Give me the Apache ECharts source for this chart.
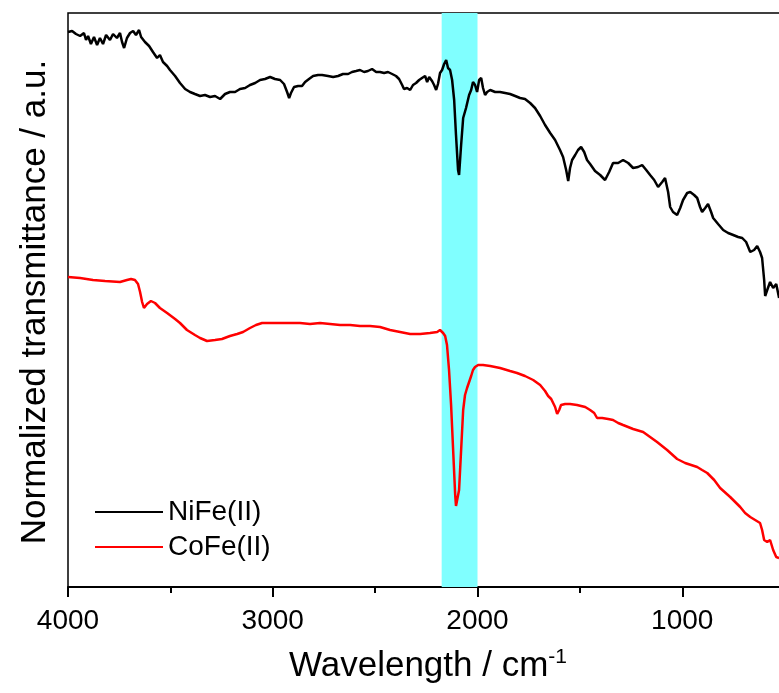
<!DOCTYPE html>
<html>
<head>
<meta charset="utf-8">
<script src="https://cdn.jsdelivr.net/npm/echarts@6/dist/echarts.min.js"></script>
<style>html,body{margin:0;padding:0;background:#fff;}#chart{width:779px;height:693px;}</style>
</head>
<body>
<div id="chart"></div>
<script>
// Wavenumbers (cm^-1) and normalized transmittance (a.u.)
var wnNiFe = [4000,3980,3961,3941,3922,3912,3902,3888,3873,3858,3844,3829,3814,3795,3780,3761,3746,3736,3726,3712,3697,3682,3668,3653,3643,3624,3604,3585,3565,3551,3536,3516,3502,3477,3453,3428,3404,3380,3355,3331,3306,3282,3257,3233,3209,3184,3160,3135,3111,3086,3062,3038,3013,2989,2964,2945,2930,2920,2911,2896,2876,2857,2842,2823,2803,2779,2759,2730,2705,2681,2657,2632,2613,2593,2574,2554,2535,2515,2495,2476,2456,2437,2417,2398,2383,2368,2359,2344,2329,2315,2300,2285,2271,2256,2246,2236,2222,2212,2202,2193,2183,2173,2163,2153,2144,2134,2124,2114,2105,2095,2090,2080,2070,2056,2041,2031,2022,2012,2002,1992,1982,1973,1963,1953,1938,1914,1890,1865,1841,1816,1792,1768,1743,1719,1694,1670,1645,1621,1597,1582,1567,1557,1548,1538,1523,1509,1494,1479,1465,1450,1426,1401,1377,1357,1338,1313,1289,1264,1240,1216,1196,1176,1157,1137,1118,1098,1084,1069,1059,1045,1025,1010,996,976,961,942,927,913,903,888,874,859,849,825,800,776,751,727,707,688,668,649,634,620,610,600,595,585,571,556,541,527];
var tNiFe = [111.0,111.2,110.6,110.2,110.8,109.4,110.2,108.6,110.0,108.4,109.8,108.6,110.4,109.4,110.6,109.8,110.8,109.0,107.8,109.8,110.8,111.2,110.4,111.4,110.0,109.0,108.2,107.0,105.8,106.4,105.0,104.2,103.4,102.2,100.8,99.6,99.0,98.6,98.2,98.4,98.0,98.2,97.6,98.6,99.0,99.0,99.6,99.8,100.4,100.8,101.4,101.6,102.0,101.6,101.4,100.6,99.0,97.8,98.8,100.0,100.2,100.2,101.0,101.6,102.2,102.4,102.4,102.2,102.0,102.2,102.6,102.6,103.0,103.2,103.4,103.0,103.2,103.6,103.0,103.0,102.8,103.0,102.6,102.2,101.6,100.4,99.6,99.8,99.4,100.4,100.8,101.4,101.8,102.2,101.0,102.0,101.2,100.4,99.4,100.6,102.8,103.4,104.6,105.4,103.8,103.4,101.4,97.4,90.4,83.4,82.4,88.4,93.8,95.8,98.4,99.4,101.0,100.4,99.0,101.4,101.8,99.8,98.4,99.0,99.4,99.0,99.0,98.8,98.6,98.2,97.8,97.6,96.8,95.8,94.2,92.4,90.8,89.4,87.4,86.0,83.4,81.2,83.8,85.4,86.4,87.4,88.0,87.0,85.4,84.6,83.2,82.4,81.4,83.0,84.8,84.8,85.4,84.8,83.8,84.0,84.4,83.4,82.4,81.4,80.0,81.0,81.8,79.0,76.0,75.0,74.4,75.8,77.4,78.8,79.0,78.4,77.8,76.0,75.0,75.8,76.6,75.0,73.8,72.6,71.4,70.8,70.4,70.0,69.8,69.0,67.0,67.4,68.2,67.0,65.8,61.4,58.2,59.4,61.0,59.8,60.6,57.8];

var wnCoFe = [4000,3941,3878,3819,3746,3712,3692,3673,3658,3648,3638,3629,3614,3595,3575,3551,3516,3477,3453,3419,3380,3355,3321,3282,3248,3209,3174,3145,3111,3082,3052,3013,2964,2916,2867,2818,2769,2720,2671,2622,2574,2525,2476,2427,2378,2329,2280,2232,2197,2183,2168,2158,2149,2139,2129,2119,2109,2105,2100,2090,2080,2070,2061,2051,2041,2031,2022,2012,1997,1973,1938,1890,1841,1807,1768,1728,1694,1670,1655,1640,1631,1621,1611,1601,1592,1572,1548,1514,1474,1450,1430,1416,1391,1362,1338,1313,1289,1240,1191,1157,1123,1074,1025,986,927,903,878,844,815,766,717,693,668,644,620,610,600,585,571,556,541,527];
var tCoFe = [62.0,61.8,61.4,61.2,61.0,61.4,61.6,61.4,60.6,59.0,57.0,55.8,56.6,57.2,56.8,55.8,54.8,53.6,52.8,51.4,50.4,49.8,49.2,49.4,49.6,50.2,50.6,51.0,51.8,52.4,52.8,52.8,52.8,52.8,52.8,52.6,52.8,52.6,52.4,52.4,52.2,52.2,52.0,51.4,51.0,50.6,50.6,50.8,51.0,51.4,50.8,50.2,48.4,43.4,36.4,27.4,18.4,16.2,16.0,19.4,27.4,35.4,38.4,39.8,41.0,42.2,43.4,44.0,44.4,44.4,44.2,43.8,43.2,42.8,42.2,41.4,40.4,39.2,38.2,37.6,37.2,36.0,34.6,35.4,36.4,36.6,36.6,36.4,36.0,35.4,34.8,33.8,33.8,33.6,33.4,32.8,32.4,31.6,31.0,30.0,29.0,27.4,25.6,24.8,24.0,23.4,22.8,21.4,19.8,18.0,16.0,14.8,14.0,13.4,12.8,11.4,9.4,9.0,9.4,7.4,6.0,5.8];

var seriesNames = ['NiFe(II)', 'CoFe(II)'];
var bandRange = [2175, 2000];
var xTicks = {min: 0, max: 4000, interval: 1000};

function zip(xs, ys) { return xs.map(function (x, i) { return [x, ys[i]]; }); }

var FONT = '"Liberation Sans", Arial, sans-serif';
var chart = echarts.init(document.getElementById('chart'), null, {renderer: 'canvas'});
chart.setOption({
  animation: false,
  backgroundColor: '#fff',
  grid: {left: 68, top: 13, right: -108, bottom: 106, containLabel: false, outerBoundsMode: 'none',
    show: true, borderColor: '#000', borderWidth: 1.5, backgroundColor: 'transparent'},
  xAxis: {
    type: 'value', inverse: true, min: xTicks.min, max: xTicks.max, interval: xTicks.interval,
    axisLine: {show: true, onZero: false, lineStyle: {color: '#000', width: 2}},
    axisTick: {show: true, inside: false, length: 10, lineStyle: {color: '#000', width: 2}},
    minorTick: {show: true, splitNumber: 2, length: 6, lineStyle: {color: '#000', width: 2}},
    axisLabel: {show: true, color: '#000', fontSize: 28, fontFamily: FONT, margin: 20,
      formatter: function (v) { return String(v); }},
    splitLine: {show: false}
  },
  yAxis: {
    type: 'value', min: 0, max: 114.8,
    axisLine: {show: true, lineStyle: {color: '#000', width: 2}},
    axisTick: {show: false}, axisLabel: {show: false}, splitLine: {show: false}
  },
  legend: {
    data: seriesNames, orient: 'vertical', left: 90, top: 493, itemWidth: 68, itemHeight: 2, itemGap: 7,
    icon: 'rect', textStyle: {fontSize: 28, fontFamily: FONT, color: '#000', padding: [0, 0, 0, 0]}
  },
  graphic: [
    {type: 'text', x: 428, y: 666, style: {text: 'Wavelength / cm{sup|-1}', font: '35px ' + FONT, fill: '#000', align: 'center', verticalAlign: 'middle',
      rich: {sup: {fontSize: 21, fontFamily: FONT, fill: '#000', padding: [0, 0, 17, 0]}}}},
    {type: 'text', x: 35, y: 302, rotation: Math.PI / 2, style: {text: 'Normalized transmittance / a.u.', font: '35px ' + FONT, fill: '#000', align: 'center', verticalAlign: 'middle'}}
  ],
  series: [
    {type: 'line', name: 'band', data: [], z: 1, silent: true,
      markArea: {silent: true, itemStyle: {color: '#80ffff', opacity: 1}, data: [[{xAxis: bandRange[0]}, {xAxis: bandRange[1]}]]}},
    {type: 'line', name: seriesNames[0], data: zip(wnNiFe, tNiFe), showSymbol: false, symbol: 'none', z: 3,
      lineStyle: {color: '#000', width: 2.5}, itemStyle: {color: '#000'}},
    {type: 'line', name: seriesNames[1], data: zip(wnCoFe, tCoFe), showSymbol: false, symbol: 'none', z: 3,
      lineStyle: {color: '#ff0000', width: 2.5}, itemStyle: {color: '#ff0000'}}
  ]
});
</script>
</body>
</html>
